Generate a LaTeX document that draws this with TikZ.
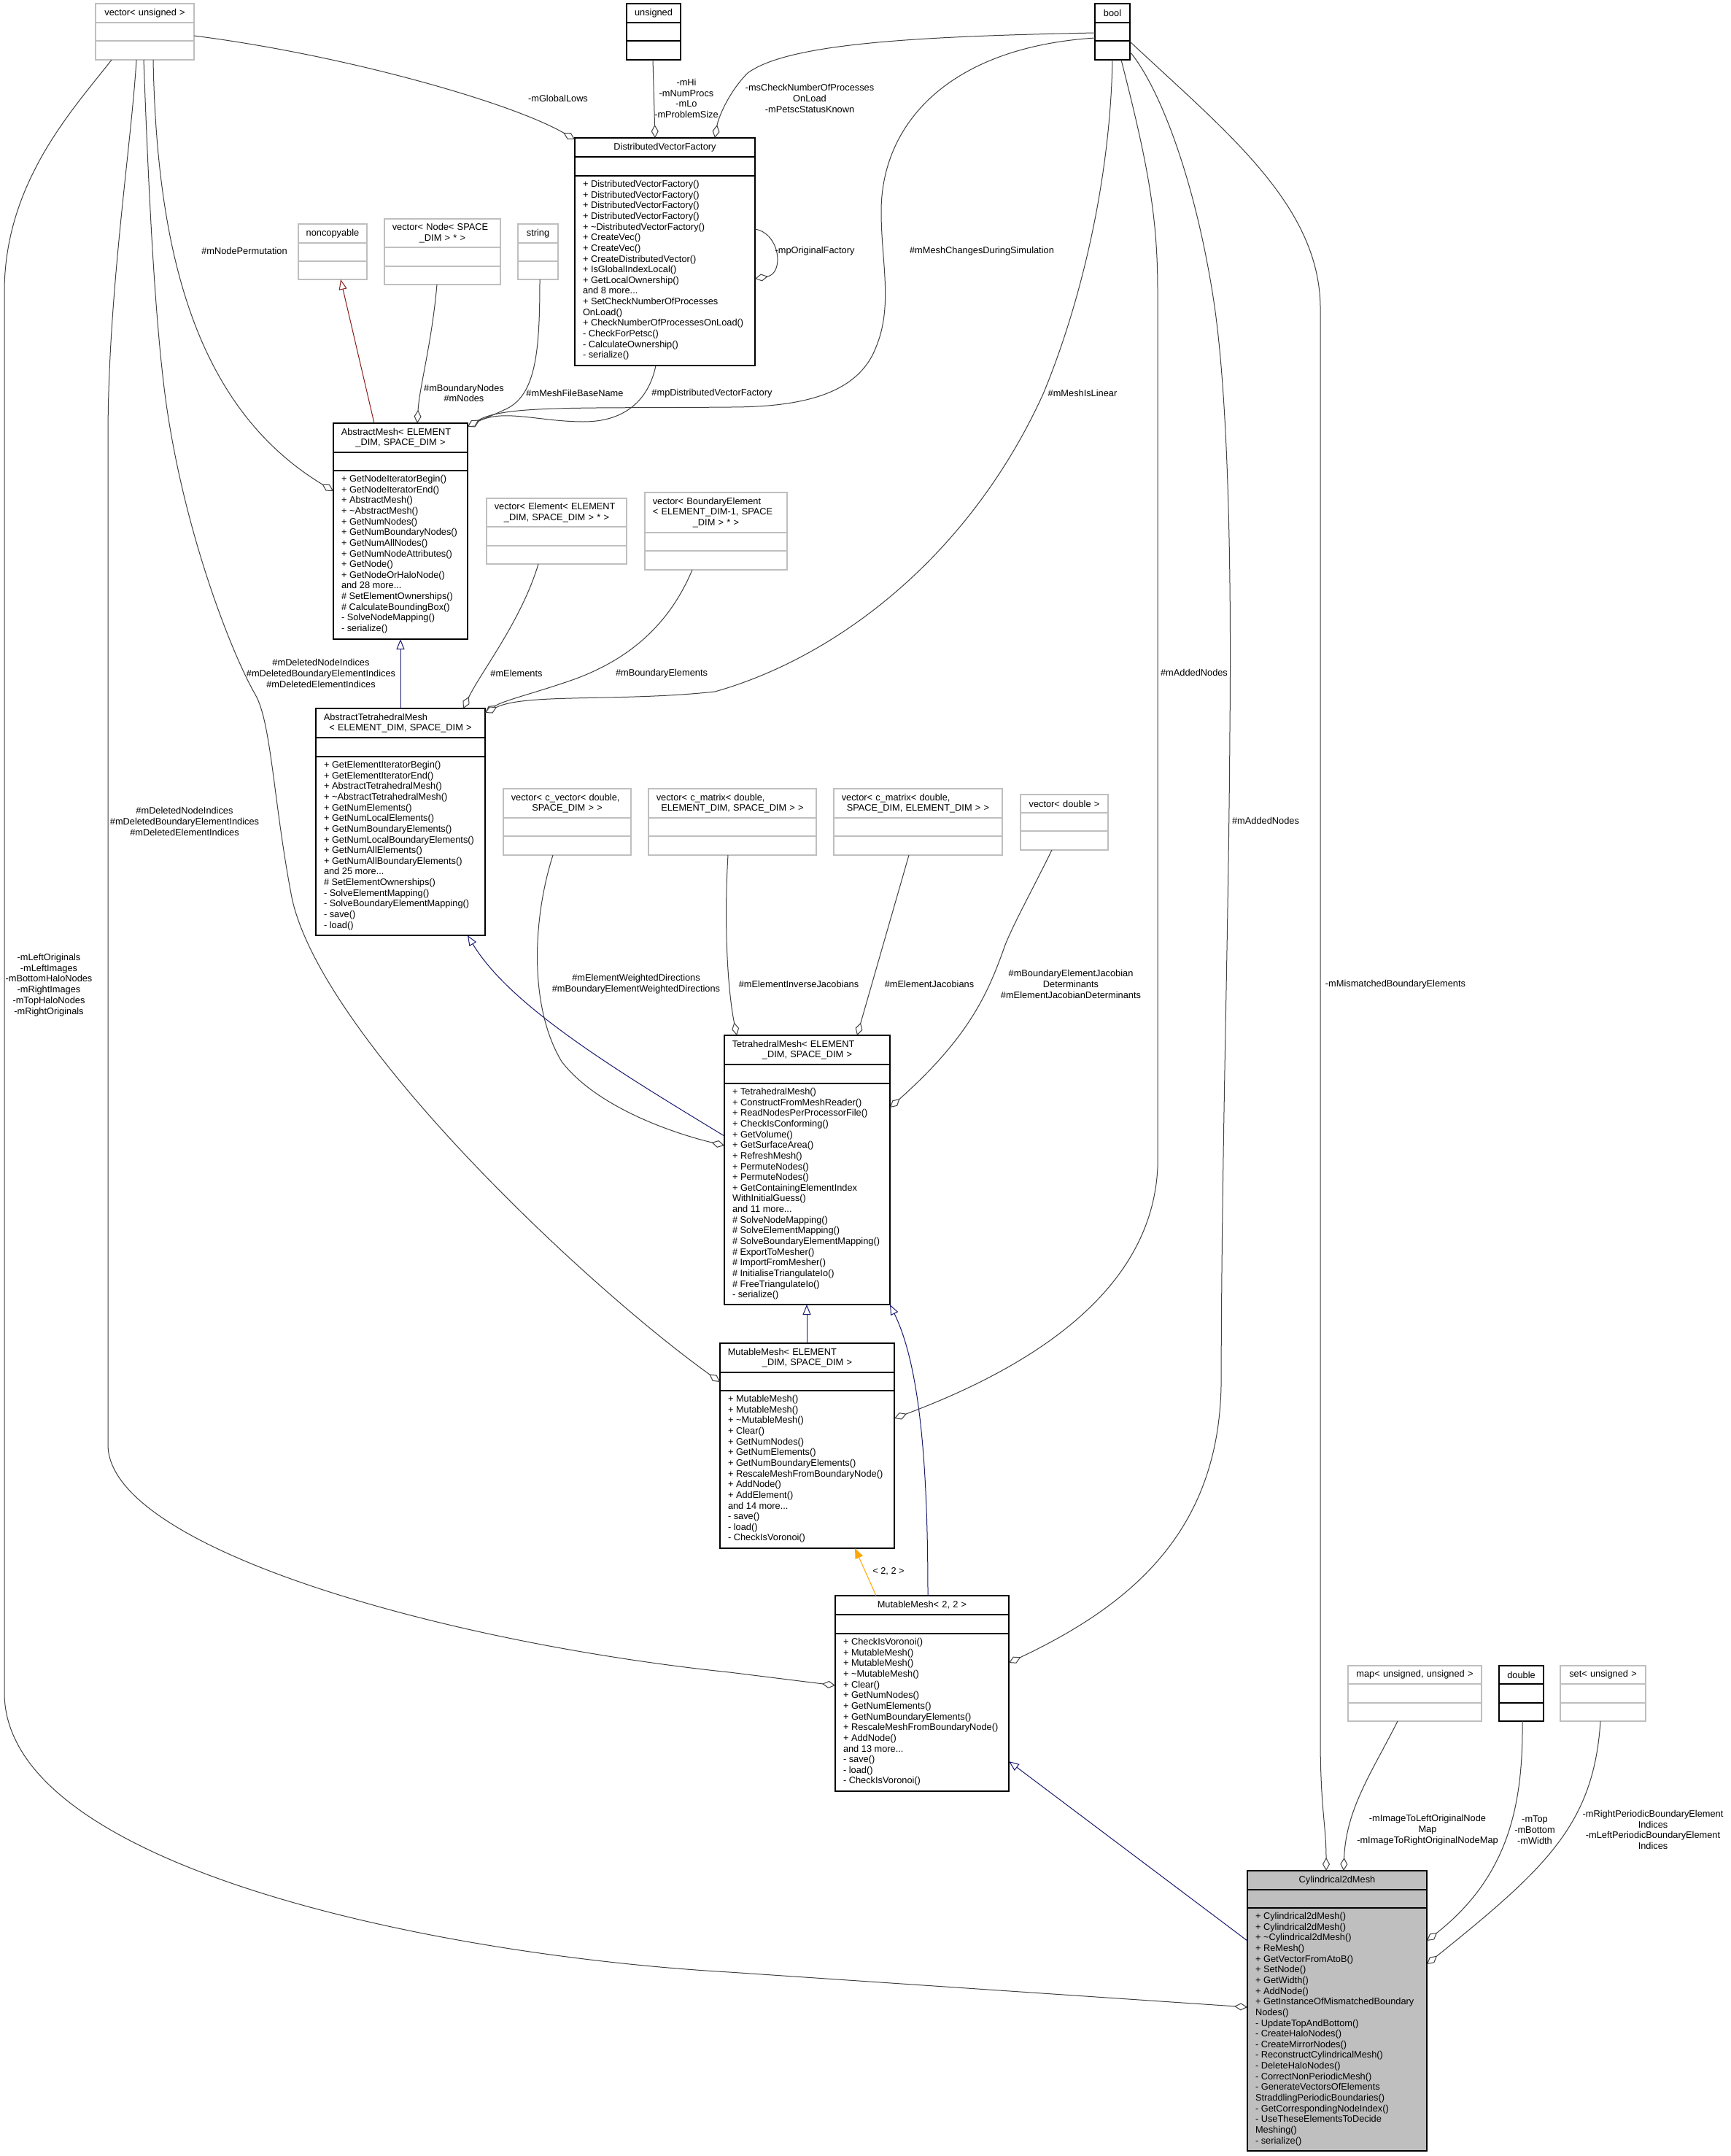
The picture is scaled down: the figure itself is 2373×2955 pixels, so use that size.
\documentclass[tikz,border=0pt]{standalone}
\usepackage{fontspec}
\setmainfont{Liberation Sans}
\usetikzlibrary{arrows.meta}
\definecolor{edgegray}{RGB}{64,64,64}
\definecolor{boxgray}{RGB}{191,191,191}
\definecolor{inhblue}{RGB}{25,25,112}
\definecolor{privred}{RGB}{139,26,26}
\definecolor{tmplorange}{RGB}{255,165,0}
\newcommand\ctr[1]{\makebox[\linewidth]{#1}}
\newcommand\ubox[9]{%
  \node[#2, anchor=north west, minimum width={#5-#3}, minimum height={#6-#4}] (#1) at (#3,#4) {};
  \draw[#2, fill=none] (#3,#7) -- (#5,#7) (#3,#8) -- (#5,#8);
  \pgfmathsetmacro\hw{#5-#3-21.6}%
  \node[hdr, text width=\hw pt] (#1h) at ({(#3+#5)/2},{(#4+#7)/2}) {#9};
}
\newcommand\meth[4]{\node[mth, anchor=north west] (#1m) at ({#2+10.8},{#3+6}) {#4};}
\begin{document}
\begin{tikzpicture}[x=1pt, y=-1pt,
  blk/.style={draw=black, line width=1.5pt, fill=white, inner sep=0pt, outer sep=0pt},
  gry/.style={draw=boxgray, line width=1.4pt, fill=white, inner sep=0pt, outer sep=0pt},
  cylst/.style={draw=black, line width=1.5pt, fill=boxgray, inner sep=0pt, outer sep=0pt},
  hdr/.style={inner sep=0pt, align=left, font=\fontsize{12.8}{14.5}\selectfont},
  mth/.style={inner sep=0pt, align=left, font=\fontsize{12.8}{14.65}\selectfont},
  lbl/.style={inner sep=0pt, align=center, font=\fontsize{12.8}{14.7}\selectfont},
  agg/.style={draw=edgegray, line width=1pt, -{Diamond[fill=white, length=18pt, width=10pt]}},
  inh/.style={draw=inhblue, line width=1pt, -{Triangle[fill=white, length=14pt, width=11pt]}},
  pinh/.style={draw=privred, line width=1pt, -{Triangle[fill=white, length=14pt, width=11pt]}},
  tmpl/.style={draw=tmplorange, line width=1pt, -{Triangle[length=14pt, width=11pt]}}]
\fill[white] (0,0) rectangle (2373,2955);
\useasboundingbox (0,0) rectangle (2373,2955);

% ---------------- boxes ----------------
\ubox{vu}{gry}{131}{5}{266}{82}{31}{56}{\ctr{vector< unsigned >}}
\ubox{uns}{blk}{859}{5}{933}{82}{31}{56}{\ctr{unsigned}}
\ubox{bool}{blk}{1501}{5}{1549}{82}{31}{56}{\ctr{bool}}
\ubox{dvf}{blk}{788}{189}{1035}{501}{215}{241}{\ctr{DistributedVectorFactory}}
\ubox{nc}{gry}{409}{307}{503}{383}{333}{358}{\ctr{noncopyable}}
\ubox{vn}{gry}{527}{300}{686}{390}{339}{365}{vector< Node< SPACE\\\ctr{\_DIM > * >}}
\ubox{str}{gry}{710}{307}{765}{383}{333}{358}{\ctr{string}}
\ubox{am}{blk}{457}{580}{641}{876}{620}{645}{AbstractMesh< ELEMENT\\\ctr{\_DIM, SPACE\_DIM >}}
\ubox{ve}{gry}{667}{683}{859}{773}{722}{748}{vector< Element< ELEMENT\\\ctr{\_DIM, SPACE\_DIM > * >}}
\ubox{vb}{gry}{884}{675}{1079}{781}{730}{755}{vector< BoundaryElement\\< ELEMENT\_DIM-1, SPACE\\\ctr{\_DIM > * >}}
\ubox{atm}{blk}{433}{971}{665}{1282}{1011}{1037}{AbstractTetrahedralMesh\\\ctr{< ELEMENT\_DIM, SPACE\_DIM >}}
\ubox{vcv}{gry}{690}{1081}{865}{1172}{1121}{1146}{vector< c\_vector< double,\\\ctr{SPACE\_DIM > >}}
\ubox{vcma}{gry}{889}{1081}{1119}{1172}{1121}{1146}{vector< c\_matrix< double,\\\ctr{ELEMENT\_DIM, SPACE\_DIM > >}}
\ubox{vcmb}{gry}{1143}{1081}{1374}{1172}{1121}{1146}{vector< c\_matrix< double,\\\ctr{SPACE\_DIM, ELEMENT\_DIM > >}}
\ubox{vd}{gry}{1399}{1089}{1519}{1165}{1114}{1139}{\ctr{vector< double >}}
\ubox{tm}{blk}{993}{1419}{1220}{1788}{1459}{1485}{TetrahedralMesh< ELEMENT\\\ctr{\_DIM, SPACE\_DIM >}}
\ubox{mm}{blk}{987}{1841}{1226}{2122}{1881}{1906}{MutableMesh< ELEMENT\\\ctr{\_DIM, SPACE\_DIM >}}
\ubox{mtt}{blk}{1145}{2187}{1383}{2455}{2213}{2239}{\ctr{MutableMesh< 2, 2 >}}
\ubox{map}{gry}{1848}{2283}{2031}{2359}{2308}{2334}{\ctr{map< unsigned, unsigned >}}
\ubox{dbl}{blk}{2055}{2283}{2116}{2359}{2308}{2334}{\ctr{double}}
\ubox{set}{gry}{2139}{2283}{2256}{2359}{2308}{2334}{\ctr{set< unsigned >}}
\ubox{cyl}{cylst}{1710}{2564}{1956}{2948}{2590}{2615}{\ctr{Cylindrical2dMesh}}

% ---------------- member lists ----------------
\meth{dvf}{788}{241}{+ DistributedVectorFactory()\\+ DistributedVectorFactory()\\+ DistributedVectorFactory()\\+ DistributedVectorFactory()\\+ \textasciitilde DistributedVectorFactory()\\+ CreateVec()\\+ CreateVec()\\+ CreateDistributedVector()\\+ IsGlobalIndexLocal()\\+ GetLocalOwnership()\\and 8 more...\\+ SetCheckNumberOfProcesses\\OnLoad()\\+ CheckNumberOfProcessesOnLoad()\\- CheckForPetsc()\\- CalculateOwnership()\\- serialize()}
\meth{am}{457}{645}{+ GetNodeIteratorBegin()\\+ GetNodeIteratorEnd()\\+ AbstractMesh()\\+ \textasciitilde AbstractMesh()\\+ GetNumNodes()\\+ GetNumBoundaryNodes()\\+ GetNumAllNodes()\\+ GetNumNodeAttributes()\\+ GetNode()\\+ GetNodeOrHaloNode()\\and 28 more...\\\# SetElementOwnerships()\\\# CalculateBoundingBox()\\- SolveNodeMapping()\\- serialize()}
\meth{atm}{433}{1037}{+ GetElementIteratorBegin()\\+ GetElementIteratorEnd()\\+ AbstractTetrahedralMesh()\\+ \textasciitilde AbstractTetrahedralMesh()\\+ GetNumElements()\\+ GetNumLocalElements()\\+ GetNumBoundaryElements()\\+ GetNumLocalBoundaryElements()\\+ GetNumAllElements()\\+ GetNumAllBoundaryElements()\\and 25 more...\\\# SetElementOwnerships()\\- SolveElementMapping()\\- SolveBoundaryElementMapping()\\- save()\\- load()}
\meth{tm}{993}{1485}{+ TetrahedralMesh()\\+ ConstructFromMeshReader()\\+ ReadNodesPerProcessorFile()\\+ CheckIsConforming()\\+ GetVolume()\\+ GetSurfaceArea()\\+ RefreshMesh()\\+ PermuteNodes()\\+ PermuteNodes()\\+ GetContainingElementIndex\\WithInitialGuess()\\and 11 more...\\\# SolveNodeMapping()\\\# SolveElementMapping()\\\# SolveBoundaryElementMapping()\\\# ExportToMesher()\\\# ImportFromMesher()\\\# InitialiseTriangulateIo()\\\# FreeTriangulateIo()\\- serialize()}
\meth{mm}{987}{1906}{+ MutableMesh()\\+ MutableMesh()\\+ \textasciitilde MutableMesh()\\+ Clear()\\+ GetNumNodes()\\+ GetNumElements()\\+ GetNumBoundaryElements()\\+ RescaleMeshFromBoundaryNode()\\+ AddNode()\\+ AddElement()\\and 14 more...\\- save()\\- load()\\- CheckIsVoronoi()}
\meth{mtt}{1145}{2239}{+ CheckIsVoronoi()\\+ MutableMesh()\\+ MutableMesh()\\+ \textasciitilde MutableMesh()\\+ Clear()\\+ GetNumNodes()\\+ GetNumElements()\\+ GetNumBoundaryElements()\\+ RescaleMeshFromBoundaryNode()\\+ AddNode()\\and 13 more...\\- save()\\- load()\\- CheckIsVoronoi()}
\meth{cyl}{1710}{2615}{+ Cylindrical2dMesh()\\+ Cylindrical2dMesh()\\+ \textasciitilde Cylindrical2dMesh()\\+ ReMesh()\\+ GetVectorFromAtoB()\\+ SetNode()\\+ GetWidth()\\+ AddNode()\\+ GetInstanceOfMismatchedBoundary\\Nodes()\\- UpdateTopAndBottom()\\- CreateHaloNodes()\\- CreateMirrorNodes()\\- ReconstructCylindricalMesh()\\- DeleteHaloNodes()\\- CorrectNonPeriodicMesh()\\- GenerateVectorsOfElements\\StraddlingPeriodicBoundaries()\\- GetCorrespondingNodeIndex()\\- UseTheseElementsToDecide\\Meshing()\\- serialize()}

% ---------------- inheritance ----------------
\draw[pinh] ([shift={(56,0)}]am.north west) -- ([shift={(58,76)}]nc.north west);
\draw[inh] ([shift={(116,0)}]atm.north west) -- ([shift={(92,296)}]am.north west);
\draw[inh] ([shift={(0,138)}]tm.north west) .. controls (850,1470) and (700,1380) .. ([shift={(208,311)}]atm.north west);
\draw[inh] ([shift={(119,0)}]mm.north west) -- ([shift={(113,369)}]tm.north west);
\draw[inh] ([shift={(127,0)}]mtt.north west) .. controls (1272,2000) and (1260,1870) .. ([shift={(227,369)}]tm.north west);
\draw[inh] ([shift={(0,96)}]cyl.north west) -- ([shift={(238,227)}]mtt.north west);
\draw[tmpl] ([shift={(56,0)}]mtt.north west) -- ([shift={(185,281)}]mm.north west);

% ---------------- aggregations ----------------
\draw[agg] ([shift={(135,44)}]vu.north west) .. controls (470,75) and (700,140) .. ([shift={(0,2)}]dvf.north west);
\draw[agg] ([shift={(36,77)}]uns.north west) -- ([shift={(110,0)}]dvf.north west);
\draw[agg] ([shift={(0,40)}]bool.north west) .. controls (1250,50) and (1080,60) .. (1025,100) .. controls (1000,125) and (985,160) .. ([shift={(192,0)}]dvf.north west);
\draw[agg] ([shift={(247,125)}]dvf.north west) .. controls (1070,320) and (1075,375) .. ([shift={(247,193)}]dvf.north west);
\draw[agg] ([shift={(72,90)}]vn.north west) .. controls (592,470) and (575,530) .. ([shift={(115,0)}]am.north west);
\draw[agg] ([shift={(30,76)}]str.north west) .. controls (740,480) and (735,540) .. (695,560) .. controls (670,572) and (655,577) .. ([shift={(184,5)}]am.north west);
\draw[agg] ([shift={(111,312)}]dvf.north west) .. controls (890,545) and (860,578) .. (800,578) .. controls (740,578) and (690,560) .. ([shift={(184,5)}]am.north west);
\draw[agg] ([shift={(0,47)}]bool.north west) .. controls (1300,65) and (1208,170) .. (1208,290) .. controls (1208,360) and (1225,420) .. (1200,478) .. controls (1175,540) and (1100,558) .. (1000,558) .. controls (800,560) and (690,555) .. ([shift={(184,5)}]am.north west);
\draw[agg] ([shift={(79,77)}]vu.north west) .. controls (215,350) and (270,560) .. ([shift={(0,93)}]am.north west);
\draw[agg] ([shift={(66,77)}]vu.north west) .. controls (205,300) and (215,480) .. (232,580) .. controls (260,750) and (320,900) .. (350,952) .. controls (372,990) and (375,1100) .. (400,1230) .. controls (440,1420) and (800,1760) .. ([shift={(0,53)}]mm.north west);
\draw[agg] ([shift={(56,77)}]vu.north west) .. controls (180,200) and (148,400) .. (148,600) -- (148,1980) .. controls (148,2120) and (600,2250) .. (1000,2292) -- ([shift={(0,123)}]mtt.north west);
\draw[agg] ([shift={(22,77)}]vu.north west) .. controls (100,150) and (6,250) .. (6,400) -- (6,2320) .. controls (6,2560) and (600,2680) .. (1000,2703) -- ([shift={(0,187)}]cyl.north west);
\draw[agg] ([shift={(71,90)}]ve.north west) .. controls (715,850) and (660,920) .. ([shift={(202,0)}]atm.north west);
\draw[agg] ([shift={(65,106)}]vb.north west) .. controls (920,850) and (870,900) .. (790,930) .. controls (740,948) and (690,960) .. ([shift={(232,6)}]atm.north west);
\draw[agg] ([shift={(24,77)}]bool.north west) .. controls (1522,250) and (1480,420) .. (1430,540) .. controls (1330,760) and (1150,900) .. (980,948) .. controls (850,962) and (720,950) .. ([shift={(232,6)}]atm.north west);
\draw[agg] ([shift={(68,91)}]vcv.north west) .. controls (730,1260) and (725,1380) .. (770,1455) .. controls (820,1520) and (930,1555) .. ([shift={(0,151)}]tm.north west);
\draw[agg] ([shift={(109,91)}]vcma.north west) .. controls (992,1270) and (998,1360) .. ([shift={(17,0)}]tm.north west);
\draw[agg] ([shift={(103,91)}]vcmb.north west) -- ([shift={(182,0)}]tm.north west);
\draw[agg] ([shift={(43,76)}]vd.north west) .. controls (1415,1220) and (1390,1265) .. (1378,1295) .. controls (1355,1360) and (1330,1420) .. ([shift={(227,99)}]tm.north west);
\draw[agg] ([shift={(36,77)}]bool.north west) .. controls (1575,230) and (1587,300) .. (1587,400) -- (1587,1600) .. controls (1580,1750) and (1450,1860) .. ([shift={(239,103)}]mm.north west);
\draw[agg] ([shift={(48,66)}]bool.north west) .. controls (1590,120) and (1640,250) .. (1665,420) .. controls (1685,560) and (1688,800) .. (1686,1000) .. controls (1684,1300) and (1675,1550) .. (1674,1900) .. controls (1670,2100) and (1550,2200) .. ([shift={(238,92)}]mtt.north west);
\draw[agg] ([shift={(48,52)}]bool.north west) .. controls (1680,180) and (1808,280) .. (1810,420) -- (1810,2380) .. controls (1810,2480) and (1818,2500) .. ([shift={(108,0)}]cyl.north west);
\draw[agg] ([shift={(68,76)}]map.north west) .. controls (1880,2430) and (1845,2480) .. ([shift={(132,0)}]cyl.north west);
\draw[agg] ([shift={(32,76)}]dbl.north west) .. controls (2088,2470) and (2070,2570) .. ([shift={(246,96)}]cyl.north west);
\draw[agg] ([shift={(55,76)}]set.north west) .. controls (2185,2500) and (2120,2560) .. ([shift={(246,128)}]cyl.north west);

% ---------------- labels ----------------
\node[lbl] (lglob) at (765,135) {-mGlobalLows};
\node[lbl] (luns) at (941,135) {-mHi\\-mNumProcs\\-mLo\\-mProblemSize};
\node[lbl] (lpetsc) at (1110,135) {-msCheckNumberOfProcesses\\OnLoad\\-mPetscStatusKnown};
\node[lbl] (lorig) at (1117,344) {-mpOriginalFactory};
\node[lbl] (lperm) at (335,344) {\#mNodePermutation};
\node[lbl] (lnodes) at (636,539) {\#mBoundaryNodes\\\#mNodes};
\node[lbl] (lfile) at (788,539) {\#mMeshFileBaseName};
\node[lbl] (ldvf) at (976,539) {\#mpDistributedVectorFactory};
\node[lbl] (lmcds) at (1346,344) {\#mMeshChangesDuringSimulation};
\node[lbl] (llin) at (1484,539) {\#mMeshIsLinear};
\node[lbl] (ldelA) at (440,923) {\#mDeletedNodeIndices\\\#mDeletedBoundaryElementIndices\\\#mDeletedElementIndices};
\node[lbl] (lele) at (708,923) {\#mElements};
\node[lbl] (lbel) at (907,923) {\#mBoundaryElements};
\node[lbl] (laddA) at (1637,922) {\#mAddedNodes};
\node[lbl] (laddB) at (1735,1125) {\#mAddedNodes};
\node[lbl] (ldelB) at (253,1126) {\#mDeletedNodeIndices\\\#mDeletedBoundaryElementIndices\\\#mDeletedElementIndices};
\node[lbl] (lleft) at (67,1350) {-mLeftOriginals\\-mLeftImages\\-mBottomHaloNodes\\-mRightImages\\-mTopHaloNodes\\-mRightOriginals};
\node[lbl] (lwd) at (872,1349) {\#mElementWeightedDirections\\\#mBoundaryElementWeightedDirections};
\node[lbl] (linv) at (1095,1349) {\#mElementInverseJacobians};
\node[lbl] (ljac) at (1274,1349) {\#mElementJacobians};
\node[lbl] (ldet) at (1468,1349) {\#mBoundaryElementJacobian\\Determinants\\\#mElementJacobianDeterminants};
\node[lbl] (lmis) at (1913,1349) {-mMismatchedBoundaryElements};
\node[lbl] (ltt) at (1218,2154) {< 2, 2 >};
\node[lbl] (lmap) at (1957,2508) {-mImageToLeftOriginalNode\\Map\\-mImageToRightOriginalNodeMap};
\node[lbl] (ldbl) at (2104,2508) {-mTop\\-mBottom\\-mWidth};
\node[lbl] (lset) at (2266,2508) {-mRightPeriodicBoundaryElement\\Indices\\-mLeftPeriodicBoundaryElement\\Indices};
\end{tikzpicture}
\end{document}
